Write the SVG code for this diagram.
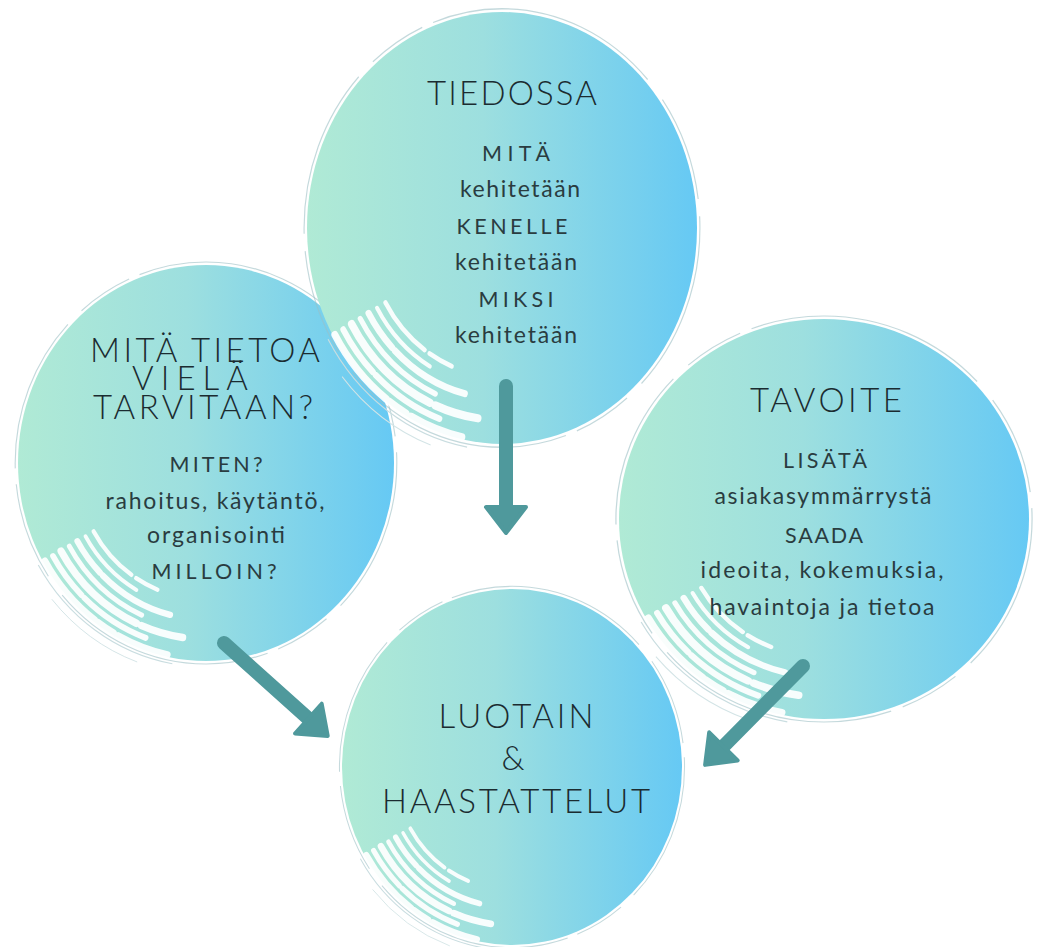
<svg xmlns="http://www.w3.org/2000/svg" xmlns:xlink="http://www.w3.org/1999/xlink" width="1038" height="947" viewBox="0 0 1038 947">
<style>
.h{font-family:Lato,"Liberation Sans",sans-serif;font-size:33px;font-weight:300;fill:#1b2b30;text-anchor:middle}
.b{font-family:Lato,"Liberation Sans",sans-serif;font-size:23px;font-weight:400;fill:#2a3c40;text-anchor:middle}
.c{font-family:Lato,"Liberation Sans",sans-serif;font-size:21.5px;font-weight:400;fill:#2a3c40;text-anchor:middle}
.arrow{fill:none;stroke:#4f999c;stroke-width:14;stroke-linecap:round;marker-end:url(#head)}
.streak{fill:none;stroke:#ffffff;stroke-linecap:round;opacity:0.92}
</style>
<defs>
<linearGradient id="fillGrad" x1="0" y1="0" x2="1" y2="0">
<stop offset="0" stop-color="#b0ead5"/>
<stop offset="0.45" stop-color="#9ddfdf"/>
<stop offset="1" stop-color="#66c9f4"/>
</linearGradient>
<marker id="head" markerUnits="userSpaceOnUse" markerWidth="60" markerHeight="60" viewBox="-5 -30 40 60" refX="1" refY="0" orient="auto">
<path d="M0,-20 L26,0 L0,20 Z" fill="#4f999c" stroke="#4f999c" stroke-width="4" stroke-linejoin="round"/>
</marker>
<g id="blob">
<circle cx="0" cy="0" r="100" fill="url(#fillGrad)"/>
<circle cx="0" cy="0" r="101.5" fill="none" stroke="#9dbfc5" stroke-width="0.6" opacity="0.6" stroke-dasharray="80 10 30 6 120 12 50 8"/>
<path d="M-89.2,51.5 A103,103 0 0 0 -17.9,101.4" fill="none" stroke="#c9dde0" stroke-width="0.6"/>
<path d="M-82,68.8 A107,107 0 0 0 -36.6,100.5" fill="none" stroke="#d3e4e6" stroke-width="0.5"/>
<path class="streak" stroke-width="3.6" stroke-dasharray="40 2 10 3 60" d="M-85.7,49.5 A99,99 0 0 0 -20.6,96.8"/>
<path class="streak" stroke-width="3" stroke-dasharray="25 2 50" d="M-81.4,47 A94,94 0 0 0 -32.1,88.3"/>
<path class="streak" stroke-width="3.8" stroke-dasharray="55 3 30" d="M-77.1,44.5 A89,89 0 0 0 -12.4,88.1"/>
<path class="streak" stroke-width="2.6" d="M-72.7,42 A84,84 0 0 0 -34.2,76.8"/>
<path class="streak" stroke-width="3.2" stroke-dasharray="20 2 60" d="M-68.4,39.5 A79,79 0 0 0 -19.1,76.7"/>
<path class="streak" stroke-width="2" d="M-64.1,37 A74,74 0 0 0 -37,64.1"/>
<path class="streak" stroke-width="2.2" stroke-dasharray="30 3 40" d="M-59.8,34.5 A69,69 0 0 0 -25.8,64"/>
</g>
</defs>
<rect x="0" y="0" width="1038" height="947" fill="#ffffff"/>

<g id="node-mita-tietoa">
<use xlink:href="#blob" href="#blob" transform="translate(206,463) scale(1.88,1.98)"/>
<text class="h" x="205" y="362" textLength="230" lengthAdjust="spacing">MITÄ TIETOA</text>
<text class="h" x="190" y="390" textLength="116" lengthAdjust="spacing">VIELÄ</text>
<text class="h" x="203" y="419" textLength="220" lengthAdjust="spacing">TARVITAAN?</text>
<text class="c" x="216" y="472" textLength="93" lengthAdjust="spacing">MITEN?</text>
<text class="b" x="215" y="509" textLength="219" lengthAdjust="spacing">rahoitus, käytäntö,</text>
<text class="b" x="216" y="543" textLength="138" lengthAdjust="spacing">organisointi</text>
<text class="c" x="214" y="579" textLength="125" lengthAdjust="spacing">MILLOIN?</text>
</g>

<g id="node-tavoite">
<use xlink:href="#blob" href="#blob" transform="translate(824,519) scale(2.05,2.0)"/>
<text class="h" x="826" y="412" textLength="152" lengthAdjust="spacing">TAVOITE</text>
<text class="c" x="825" y="468" textLength="84" lengthAdjust="spacing">LISÄTÄ</text>
<text class="b" x="823" y="504" textLength="217" lengthAdjust="spacing">asiakasymmärrystä</text>
<text class="c" x="824" y="543" textLength="78" lengthAdjust="spacing">SAADA</text>
<text class="b" x="822" y="578" textLength="243" lengthAdjust="spacing">ideoita, kokemuksia,</text>
<text class="b" x="822" y="615" textLength="225" lengthAdjust="spacing">havaintoja ja tietoa</text>
</g>

<g id="node-tiedossa">
<use xlink:href="#blob" href="#blob" transform="translate(502,228) scale(1.95,2.16)"/>
<text class="h" x="512" y="105" textLength="170" lengthAdjust="spacing">TIEDOSSA</text>
<text class="c" x="516" y="161" textLength="68" lengthAdjust="spacing">MITÄ</text>
<text class="b" x="520" y="197" textLength="120" lengthAdjust="spacing">kehitetään</text>
<text class="c" x="512" y="234" textLength="111" lengthAdjust="spacing">KENELLE</text>
<text class="b" x="516" y="270" textLength="122" lengthAdjust="spacing">kehitetään</text>
<text class="c" x="516" y="307" textLength="75" lengthAdjust="spacing">MIKSI</text>
<text class="b" x="516" y="343" textLength="122" lengthAdjust="spacing">kehitetään</text>
</g>

<g id="node-luotain">
<use xlink:href="#blob" href="#blob" transform="translate(512,767) scale(1.7,1.78)"/>
<text class="h" x="516" y="728" textLength="155" lengthAdjust="spacing">LUOTAIN</text>
<text class="h" x="513" y="770">&amp;</text>
<text class="h" x="516" y="813" textLength="268" lengthAdjust="spacing">HAASTATTELUT</text>
</g>

<g id="connectors">
<line class="arrow" x1="506" y1="386" x2="506" y2="508"/>
<line class="arrow" x1="224" y1="643" x2="309.1" y2="719.3"/>
<line class="arrow" x1="803" y1="666" x2="722.7" y2="747.1"/>
</g>
</svg>
